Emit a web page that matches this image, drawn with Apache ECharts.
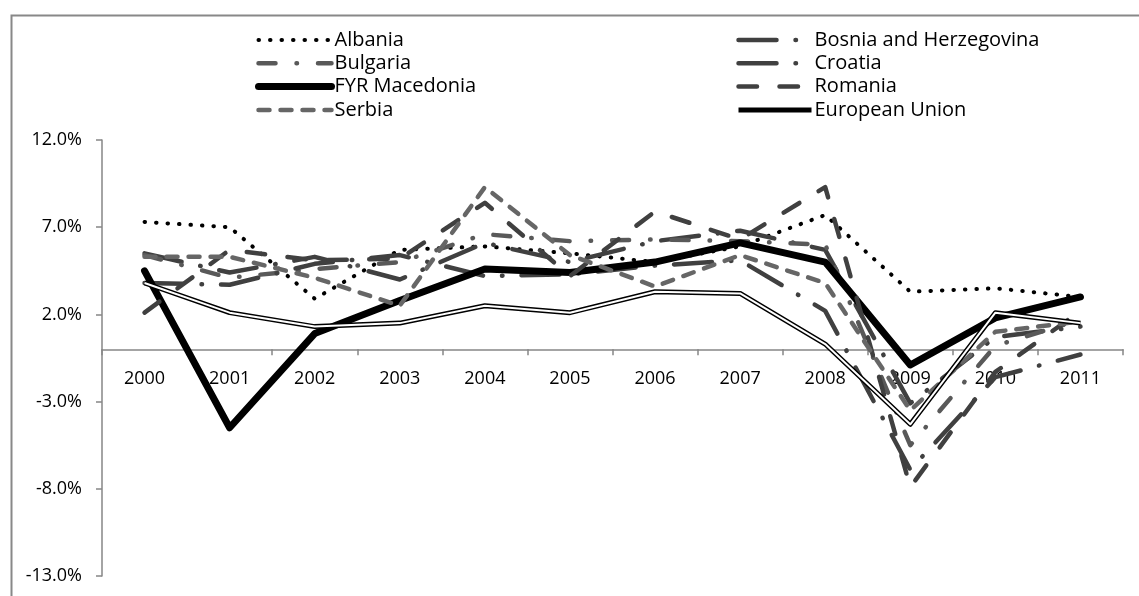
<!DOCTYPE html>
<html>
<head>
<meta charset="utf-8">
<script src="https://cdn.jsdelivr.net/npm/echarts@6/dist/echarts.min.js"></script>
<style>
html,body{margin:0;padding:0;background:#fff;}
#chart{width:1139px;height:596px;}
</style>
</head>
<body>
<div id="chart"></div>
<script>
const years = ['2000','2001','2002','2003','2004','2005','2006','2007','2008','2009','2010','2011'];
const albania  = [7.3, 7.0, 2.9, 5.7, 5.9, 5.5, 5.0, 5.9, 7.7, 3.3, 3.5, 3.0];
const bosnia   = [5.5, 4.4, 5.3, 4.0, 6.1, 5.0, 6.2, 6.8, 5.7, -3.1, 0.7, 1.3];
const bulgaria = [5.4, 4.1, 4.6, 5.0, 6.6, 6.2, 6.3, 6.2, 6.0, -5.5, 0.2, 1.7];
const croatia  = [3.8, 3.7, 4.9, 5.4, 4.2, 4.3, 4.8, 5.1, 2.2, -6.9, -1.6, -0.3];
const fyrMacedonia = [4.5, -4.5, 0.9, 2.8, 4.6, 4.4, 5.0, 6.1, 5.0, -0.9, 1.8, 3.0];
const romania  = [2.1, 5.7, 5.1, 5.2, 8.4, 4.2, 7.9, 6.3, 9.3, -7.9, -1.3, 2.2];
const serbia   = [5.3, 5.3, 4.1, 2.5, 9.3, 5.4, 3.6, 5.4, 3.8, -3.5, 1.0, 1.6];
const europeanUnion = [3.8, 2.1, 1.3, 1.5, 2.5, 2.1, 3.3, 3.2, 0.3, -4.3, 2.1, 1.5];
const yTicks = {min: -13, max: 12, interval: 5};

function lineSeries(name, data, color, width, dash, cap, z) {
  return {
    name: name, type: 'line', data: data, symbol: 'none', smooth: false,
    z: z || 2,
    lineStyle: {color: color, width: width, type: dash, cap: cap || 'round', join: 'round'},
    itemStyle: {color: color},
    emphasis: {disabled: true},
    silent: true
  };
}

const chart = echarts.init(document.getElementById('chart'), null, {renderer: 'canvas'});
const font = 'Open Sans';
const gridTop = 140, gridBottom = 20, chartH = 596;
const plotH = chartH - gridTop - gridBottom;
const zeroOffset = plotH * (0 - yTicks.min) / (yTicks.max - yTicks.min);

const legendCommon = {
  orient: 'vertical', padding: 0, itemWidth: 73, itemHeight: 14, itemGap: 3.3,
  itemStyle: {opacity: 0},
  lineStyle: {width: 'inherit', type: 'inherit', cap: 'inherit'},
  textStyle: {fontFamily: font, fontSize: 20, color: '#000', lineHeight: 20, padding: [0,0,0,-2]},
  selectedMode: false
};

chart.setOption({
  animation: false,
  backgroundColor: '#fff',
  graphic: [{
    type: 'rect', left: 9, top: 13, z: -10, silent: true,
    shape: {width: 1300, height: 800},
    style: {fill: 'none', stroke: '#888', lineWidth: 2}
  }],
  legend: [
    Object.assign({}, legendCommon, {left: 255, top: 30, data: ['Albania', 'Bulgaria', 'FYR Macedonia', 'Serbia']}),
    Object.assign({}, legendCommon, {left: 736, top: 30, data: ['Bosnia and Herzegovina', 'Croatia', 'Romania', 'European Union']})
  ],
  grid: {left: 102, right: 16, top: gridTop, bottom: gridBottom, containLabel: false, outerBoundsMode: 'none'},
  xAxis: {
    type: 'category', data: years, boundaryGap: true, position: 'bottom', offset: -zeroOffset,
    axisLine: {onZero: false, lineStyle: {color: '#868686', width: 1.5}},
    axisTick: {show: true, length: 6, inside: false, alignWithLabel: false, lineStyle: {color: '#868686', width: 1.5}},
    axisLabel: {fontFamily: font, fontSize: 18, color: '#000', margin: 21, interval: 0},
    splitLine: {show: false}
  },
  yAxis: {
    type: 'value', min: yTicks.min, max: yTicks.max, interval: yTicks.interval,
    axisLine: {show: true, onZero: false, lineStyle: {color: '#868686', width: 1.5}},
    axisTick: {show: true, length: 6, inside: false, lineStyle: {color: '#868686', width: 1.5}},
    axisLabel: {fontFamily: font, fontSize: 18, color: '#000', margin: 20,
      formatter: function (v) { return v.toFixed(1) + '%'; }},
    splitLine: {show: false}
  },
  series: [
    lineSeries('Albania', albania, '#000000', 4, [0.5, 11], 'round', 2),
    lineSeries('Bosnia and Herzegovina', bosnia, '#404040', 4.5, [38, 19, 0.5, 19], 'round', 2),
    lineSeries('Bulgaria', bulgaria, '#595959', 4.5, [17, 21, 0.5, 21], 'round', 2),
    lineSeries('Croatia', croatia, '#404040', 4.5, [38, 19, 0.5, 19], 'round', 2),
    lineSeries('FYR Macedonia', fyrMacedonia, '#000000', 7, 'solid', 'round', 3),
    lineSeries('Romania', romania, '#404040', 4.5, [18.5, 22.5], 'round', 3),
    lineSeries('Serbia', serbia, '#666666', 4.5, [11, 11], 'round', 3),
    lineSeries('European Union', europeanUnion, '#000000', 5, 'solid', 'butt', 4),
    lineSeries('EU inner', europeanUnion, '#ffffff', 2, 'solid', 'butt', 5)
  ]
});
</script>
</body>
</html>
